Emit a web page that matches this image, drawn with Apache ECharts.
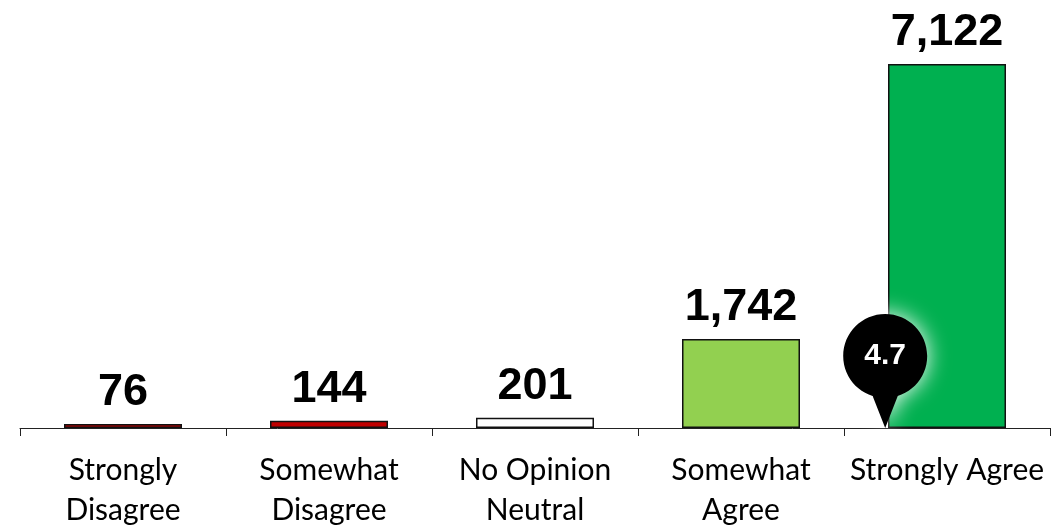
<!DOCTYPE html>
<html>
<head>
<meta charset="utf-8">
<script src="https://cdn.jsdelivr.net/npm/echarts@6/dist/echarts.min.js"></script>
<style>
  html, body { margin: 0; padding: 0; background: #fff; }
  #chart { width: 1054px; height: 530px; }
</style>
</head>
<body>
<div id="chart"></div>
<script>
// categories and response counts
const categories = ['Strongly\nDisagree', 'Somewhat\nDisagree', 'No Opinion\nNeutral', 'Somewhat\nAgree', 'Strongly Agree']
const counts = [76, 144, 201, 1742, 7122]
const barColors = ['#C00000', '#C00000', '#FFFFFF', '#92D050', '#00B050']
// mean score on the 1-5 scale
const meanScore = 4.7

const chart = echarts.init(document.getElementById('chart'))

// pin marker: circle (bezier) plus a small point at the bottom
const pinPath = 'path://M50,0 C77.6,0 100,22.4 100,50 C100,77.6 77.6,100 50,100 C22.4,100 0,77.6 0,50 C0,22.4 22.4,0 50,0 Z M32,90 L68,90 L50,136 Z'

const option = {
  animation: false,
  grid: { left: 20, right: 4, top: 19, bottom: 100 },
  xAxis: [
    {
      type: 'category',
      data: categories,
      axisLine: { lineStyle: { color: '#222', width: 1 } },
      axisTick: { show: true, length: 8, lineStyle: { color: '#222' } },
      axisLabel: {
        interval: 0,
        color: '#000',
        fontFamily: 'Lato',
        fontSize: 30,
        lineHeight: 40,
        margin: 22
      }
    },
    {
      // hidden value axis so the mean can sit on the 1-5 scale
      type: 'value',
      min: 0.5,
      max: 5.5,
      show: false
    }
  ],
  yAxis: {
    type: 'value',
    min: 0,
    max: 8000,
    show: false
  },
  series: [
    {
      type: 'bar',
      xAxisIndex: 0,
      barWidth: 118,
      data: counts.map((v, i) => ({
        value: v,
        itemStyle: { color: barColors[i] }
      })),
      itemStyle: { borderColor: '#111', borderWidth: 1.5 },
      label: {
        show: true,
        position: 'top',
        distance: 9,
        color: '#000',
        fontFamily: 'Liberation Sans',
        fontWeight: 'bold',
        fontSize: 45,
        formatter: p => p.value.toLocaleString('en-US')
      }
    },
    {
      type: 'scatter',
      xAxisIndex: 1,
      data: [[meanScore, 0]],
      symbol: pinPath,
      symbolSize: [84, 114],
      symbolOffset: [0, -57],
      itemStyle: {
        color: '#000',
        opacity: 1,
        shadowBlur: 22,
        shadowColor: '#ffffff'
      },
      label: {
        show: true,
        position: 'inside',
        offset: [0, -15],
        formatter: () => meanScore.toFixed(1),
        color: '#fff',
        fontFamily: 'Liberation Sans',
        fontWeight: 'bold',
        fontSize: 30
      },
      z: 5
    }
  ]
}

chart.setOption(option)
</script>
</body>
</html>
